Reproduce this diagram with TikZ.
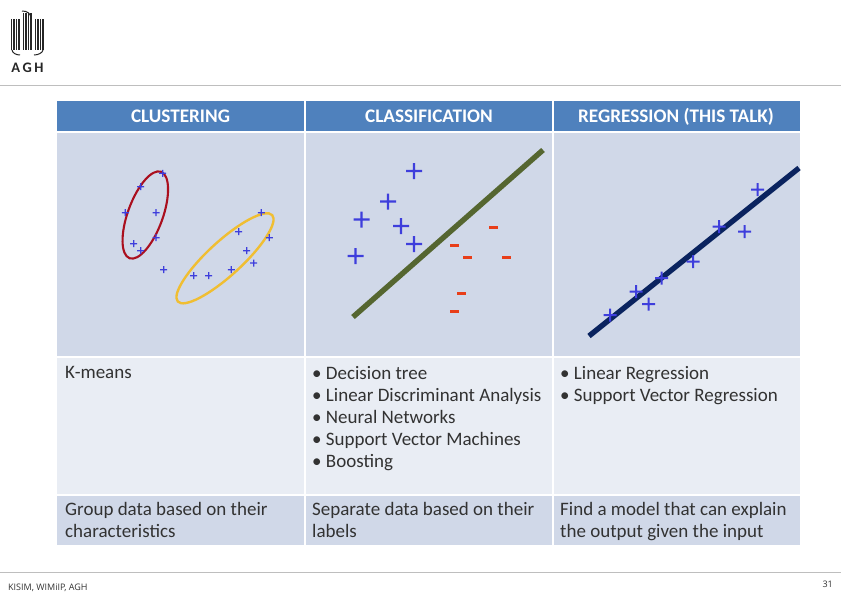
\documentclass[tikz,border=0pt]{standalone}
\usepackage{fontspec}
\setmainfont{Carlito}
\newfontfamily\footfont{Open Sans}
\definecolor{hdr}{RGB}{79,129,189}
\definecolor{rowa}{RGB}{208,216,232}
\definecolor{rowb}{RGB}{233,237,244}
\definecolor{plusblue}{RGB}{62,62,220}
\definecolor{minusred}{RGB}{232,62,25}
\definecolor{olive}{RGB}{85,102,48}
\definecolor{navy}{RGB}{10,35,95}
\definecolor{rule}{RGB}{190,190,190}
\definecolor{txt}{RGB}{50,50,50}
\definecolor{clusterred}{RGB}{170,15,30}
\definecolor{clusteryellow}{RGB}{240,190,50}
\tikzset{
  x=1pt,y=-1pt,
  headcell/.style={fill=hdr},
  darkcell/.style={fill=rowa},
  lightcell/.style={fill=rowb},
  headtext/.style={text=white,font=\fontsize{19.2}{22}\selectfont\bfseries,anchor=base},
  bodytext/.style={text=txt,font=\fontsize{19}{22}\selectfont,anchor=north west,align=left,inner sep=0pt},
  plusfill/.style={fill=plusblue},
  minussign/.style={fill=minusred},
  footertext/.style={text=black!80,font=\footfont\fontsize{9}{11}\selectfont,inner sep=0pt},
  logobar/.style={draw=black!85,line width=1.9pt},
}
\newcommand{\plusmark}[4]{\fill[plusfill] (#1-#3,#2-#4) rectangle (#1+#3,#2+#4) (#1-#4,#2-#3) rectangle (#1+#4,#2+#3);}
\begin{document}
\begin{tikzpicture}
\useasboundingbox (0,0) rectangle (841,595);
\fill[white] (0,0) rectangle (841,595);

% logo
\foreach \x in {11.5,14,16.5,19}{\draw[logobar] (\x,19) -- (\x,50);}
\foreach \x in {35.5,38,40.5,43}{\draw[logobar] (\x,19) -- (\x,50);}
\foreach \x in {23.5,26,28.5,31}{\draw[logobar] (\x,13) -- (\x,50);}
\draw[logobar,line width=1pt] (12,50) .. controls (12.5,53) and (16,55) .. (20,55);
\draw[logobar,line width=1pt] (43,50) .. controls (42.5,53) and (38,55) .. (34,55);
\draw[logobar,line width=1pt] (22,11) .. controls (27,11) and (31,13) .. (31,19);
\node[inner sep=0pt,text=black!85,font=\fontsize{14.5}{15}\selectfont\bfseries] (agh) at (27.5,68) {A\,G\,H};

% rules
\draw[rule,line width=0.8pt] (0,85) -- (841,85);
\draw[rule,line width=0.8pt] (0,572) -- (841,572);

% header
\fill[headcell] (57,101) rectangle (304,131);
\fill[headcell] (306,101) rectangle (552,131);
\fill[headcell] (554,101) rectangle (800,131);
\node[headtext] (h1) at (180.5,122) {CLUSTERING};
\node[headtext] (h2) at (429,122) {CLASSIFICATION};
\node[headtext] (h3) at (676,122) {REGRESSION (THIS TALK)};

% rows
\fill[darkcell] (57,133) rectangle (304,356);
\fill[darkcell] (306,133) rectangle (552,356);
\fill[darkcell] (554,133) rectangle (800,356);
\fill[lightcell] (57,358) rectangle (304,494);
\fill[lightcell] (306,358) rectangle (552,494);
\fill[lightcell] (554,358) rectangle (800,494);
\fill[darkcell] (57,496) rectangle (304,545);
\fill[darkcell] (306,496) rectangle (552,545);
\fill[darkcell] (554,496) rectangle (800,545);

% clustering
\draw[draw=clusterred,line width=2.1pt,rotate around={70:(145.3,215)}] (145.3,215) ellipse [x radius=46,y radius=17.5];
\draw[draw=clusteryellow,line width=2.4pt,rotate around={42.5:(225,258.3)}] (225,258.3) ellipse [x radius=64,y radius=17];
\foreach \x/\y in {162.7/173.3,140.7/186.7,125.3/212.7,156/212.7,156/237.7,133.7/243.7,140.7/250.7,163.7/269.7,193.7/275.7,208.7/275.7,231.3/269.7,253.7/263,246.7/250.7,238.7/231.7,261.3/212.7,269.3/237.7}{
  \plusmark{\x}{\y}{3.5}{0.6}
}

% classification
\draw[draw=olive,line width=5.4pt] (353,317) -- (543,150);
\foreach \x/\y in {414/171,388/201.5,361.5/219.5,401/226,414/244,355.5/256}{
  \plusmark{\x}{\y}{8}{1.2}
}
\foreach \x/\y in {493/227.5,454.5/245.5,467.5/257.5,506/257.5,461/293.5,454.5/311.5}{
  \fill[minussign] (\x-4.5,\y-1.4) rectangle (\x+4.5,\y+1.4);
}

% regression
\draw[draw=navy,line width=5.4pt] (589,336) -- (799,168);
\foreach \x/\y in {757.5/189.5,719/226.5,744.5/231.5,693/261.5,661.5/278,636/291.5,648.5/304,610/315}{
  \plusmark{\x}{\y}{6.5}{1}
}

% texts
\node[bodytext] (m1) at (65,366) {K-means};
\node[bodytext] (m2) at (312,366) {• Decision tree\\• Linear Discriminant Analysis\\• Neural Networks\\• Support Vector Machines\\• Boosting};
\node[bodytext] (m3) at (560,366) {• Linear Regression\\• Support Vector Regression};
\node[bodytext] (d1) at (65,502) {Group data based on their\\characteristics};
\node[bodytext] (d2) at (312,502) {Separate data based on their\\labels};
\node[bodytext] (d3) at (560,502) {Find a model that can explain\\the output given the input};

% footer
\node[footertext,anchor=west] (foot) at (8,588) {KISIM, WIMiIP, AGH};
\node[footertext,anchor=east] (page) at (833,584) {31};
\end{tikzpicture}
\end{document}
